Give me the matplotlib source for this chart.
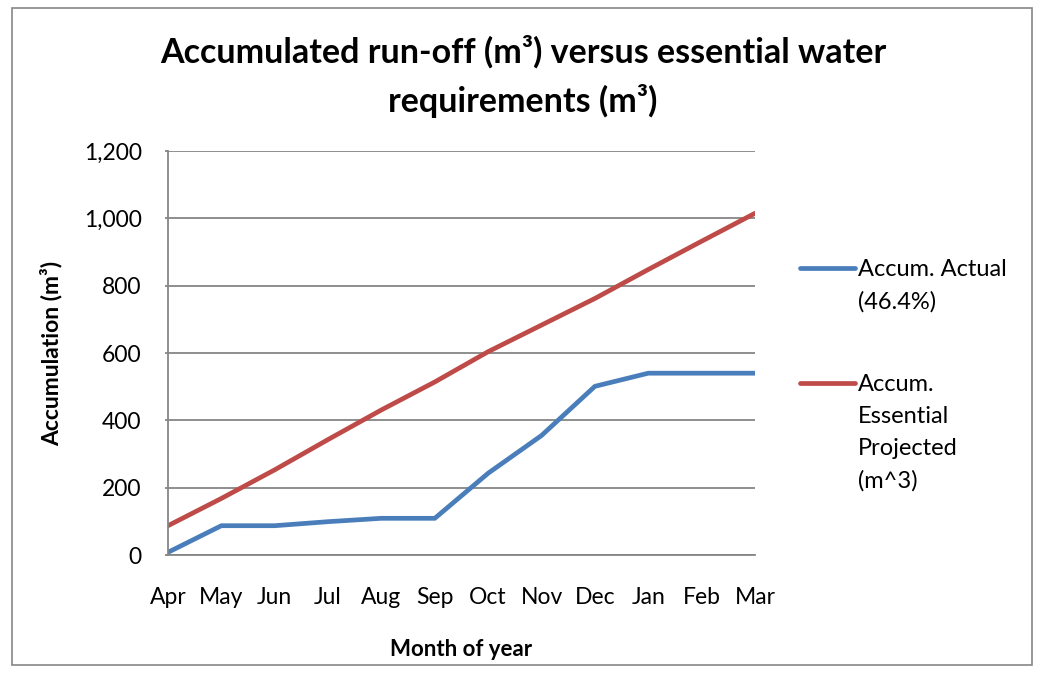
import matplotlib
matplotlib.use("Agg")
import matplotlib.pyplot as plt
from matplotlib.lines import Line2D
from matplotlib.patches import Rectangle
from matplotlib.ticker import FuncFormatter

months = ["Apr", "May", "Jun", "Jul", "Aug", "Sep", "Oct", "Nov", "Dec", "Jan", "Feb", "Mar"]
actual = [8, 87, 87, 99, 109, 109, 243, 355, 501, 540, 540, 540]
projected = [87, 168, 253, 343, 431, 514, 604, 683, 762, 848, 932, 1015]
label_actual = "Accum. Actual\n(46.4%)"
label_proj = "Accum.\nEssential\nProjected\n(m^3)"

FONT = ["Lato", "DejaVu Sans"]
plt.rcParams['font.family'] = FONT

fig = plt.figure(figsize=(10.46, 6.75), dpi=100)
W, H = 1046, 675
ax = fig.add_axes([168 / W, 1 - 555 / H, (755 - 168) / W, (555 - 151) / H])

blue = "#4A7EBB"
red = "#BE4B48"
grid = "#868686"

x = list(range(len(months)))
ax.plot(x, actual, color=blue, lw=3.4, solid_capstyle="round", solid_joinstyle="round")
ax.plot(x, projected, color=red, lw=3.4, solid_capstyle="round", solid_joinstyle="round")

ax.set_xlim(0, len(months) - 1)
ax.set_ylim(0, 1200)
ax.set_yticks(range(0, 1201, 200))
ax.yaxis.set_major_formatter(FuncFormatter(lambda v, p: f"{int(v):,}"))
ax.set_xticks(x)
ax.set_xticklabels(months)
ax.grid(axis="y", color=grid, lw=1.3)
ax.set_axisbelow(True)
for s in ["top", "right"]:
    ax.spines[s].set_visible(False)
for s in ["left", "bottom"]:
    ax.spines[s].set_color(grid)
    ax.spines[s].set_linewidth(1.3)
ax.tick_params(axis="y", length=2, color=grid, width=1.3, labelsize=16.5, pad=17)
ax.tick_params(axis="x", length=0, labelsize=16.5, pad=23)
for t in ax.get_xticklabels() + ax.get_yticklabels():
    t.set_color("black")

ax.set_xlabel("Month of year", fontsize=16, fontweight="bold", labelpad=22)
ax.set_ylabel("Accumulation (m³)", fontsize=16.5, fontweight="bold", labelpad=15)

fig.text(0.5, 1 - 77 / H, "Accumulated run-off (m³) versus essential water\nrequirements (m³)",
         ha="center", va="center", fontsize=24.5, fontweight="bold", linespacing=1.55)

# legend
fig.add_artist(Line2D([800 / W, 855 / W], [1 - 268 / H, 1 - 268 / H], color=blue, lw=3.4,
                      solid_capstyle="round"))
fig.add_artist(Line2D([800 / W, 855 / W], [1 - 383 / H, 1 - 383 / H], color=red, lw=3.4,
                      solid_capstyle="round"))
fig.text(858 / W, 1 - 259 / H, label_actual, ha="left", va="top", fontsize=17, linespacing=1.65)
fig.text(858 / W, 1 - 374 / H, label_proj, ha="left", va="top", fontsize=17, linespacing=1.65)

fig.add_artist(Rectangle((12 / W, 1 - 665 / H), (1032 - 12) / W, (665 - 8) / H,
                         transform=fig.transFigure, fill=False, edgecolor=grid, lw=1.2))

fig.savefig("out.png", dpi=100)
